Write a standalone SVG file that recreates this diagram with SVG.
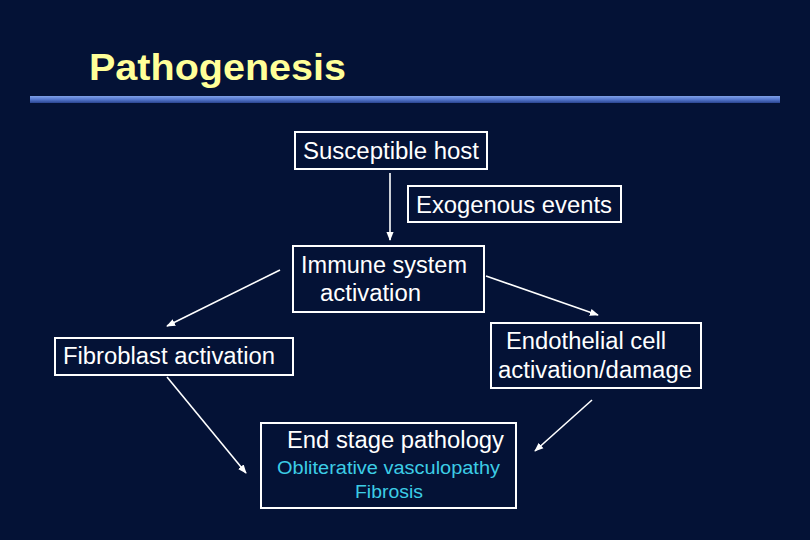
<svg xmlns="http://www.w3.org/2000/svg" width="810" height="540" viewBox="0 0 810 540">
<defs>
<linearGradient id="bar" x1="0" y1="0" x2="0" y2="1">
<stop offset="0" stop-color="#7fa0e8"/>
<stop offset="0.5" stop-color="#5577cc"/>
<stop offset="1" stop-color="#2a4490"/>
</linearGradient>
<marker id="ah" viewBox="0 0 10 10" refX="9" refY="5" markerWidth="9" markerHeight="9" markerUnits="userSpaceOnUse" orient="auto">
<path d="M0,1 L10,5 L0,9 z" fill="#ffffff"/>
</marker>
</defs>
<style>
.box{fill:none;stroke:#ffffff;stroke-width:2}
.t{font-family:"Liberation Sans",Arial,sans-serif;font-size:23px;fill:#ffffff}
.c{font-family:"Liberation Sans",Arial,sans-serif;font-size:18px;fill:#3ccde6}
.ln{stroke:#ffffff;stroke-width:1.6;fill:none;marker-end:url(#ah)}
</style>
<rect width="810" height="540" fill="#041236"/>
<text x="89" y="80" font-family="Liberation Sans,Arial,sans-serif" font-weight="bold" font-size="36" fill="#ffff99" textLength="257" lengthAdjust="spacingAndGlyphs">Pathogenesis</text>
<rect x="30" y="96" width="750" height="7" fill="url(#bar)"/>
<g id="susceptible">
<rect class="box" x="295" y="132" width="192" height="37"/>
<text class="t" x="303" y="159" textLength="176" lengthAdjust="spacingAndGlyphs">Susceptible host</text>
</g>
<g id="exogenous">
<rect class="box" x="408" y="186" width="213" height="36"/>
<text class="t" x="416" y="213" textLength="196" lengthAdjust="spacingAndGlyphs">Exogenous events</text>
</g>
<g id="immune">
<rect class="box" x="293" y="246" width="191" height="66"/>
<text class="t" x="301" y="273" textLength="166" lengthAdjust="spacingAndGlyphs">Immune system</text>
<text class="t" x="320" y="301" textLength="101" lengthAdjust="spacingAndGlyphs">activation</text>
</g>
<g id="fibroblast">
<rect class="box" x="55" y="338" width="238" height="37"/>
<text class="t" x="63" y="364" textLength="212" lengthAdjust="spacingAndGlyphs">Fibroblast activation</text>
</g>
<g id="endothelial">
<rect class="box" x="491" y="323" width="210" height="65"/>
<text class="t" x="506" y="349" textLength="160" lengthAdjust="spacingAndGlyphs">Endothelial cell</text>
<text class="t" x="498" y="378" textLength="194" lengthAdjust="spacingAndGlyphs">activation/damage</text>
</g>
<g id="endstage">
<rect class="box" x="261" y="423" width="255" height="85"/>
<text class="t" x="287" y="448" textLength="217" lengthAdjust="spacingAndGlyphs">End stage pathology</text>
<text class="c" x="277" y="474" textLength="223" lengthAdjust="spacingAndGlyphs">Obliterative vasculopathy</text>
<text class="c" x="355" y="498" textLength="68" lengthAdjust="spacingAndGlyphs">Fibrosis</text>
</g>
<g id="connectors">
<line class="ln" x1="390" y1="173" x2="390" y2="240"/>
<line class="ln" x1="280" y1="270" x2="167" y2="326"/>
<line class="ln" x1="486" y1="276" x2="598" y2="315"/>
<line class="ln" x1="167" y1="377" x2="246" y2="473"/>
<line class="ln" x1="592" y1="400" x2="535" y2="451"/>
</g>
</svg>
